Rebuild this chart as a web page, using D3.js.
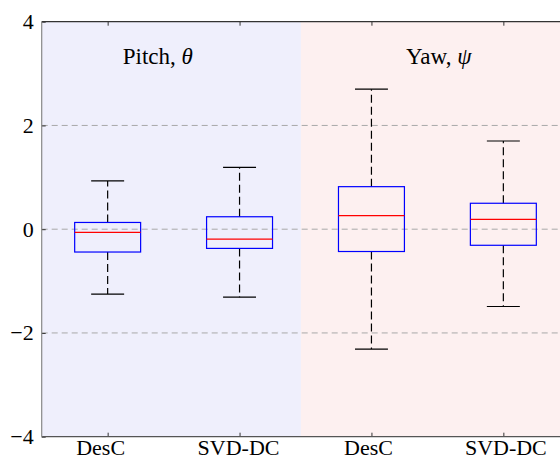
<!DOCTYPE html>
<html>
<head>
<meta charset="utf-8">
<script src="https://cdn.jsdelivr.net/npm/d3@7"></script>
<style>
  body { margin: 0; background: #fff; }
  svg { display: block; }
  text { font-family: "Liberation Serif", "Times New Roman", serif; fill: #000; }
</style>
</head>
<body>
<svg id="chart" width="560" height="467"></svg>
<script>
// Box statistics per method (pitch pair, then yaw pair)
const categories   = ["DesC", "SVD-DC", "DesC", "SVD-DC"];
const upperWhisker = [0.93, 1.19, 2.70, 1.70];
const q3           = [0.13, 0.24, 0.82, 0.50];
const median       = [-0.06, -0.19, 0.26, 0.19];
const q1           = [-0.44, -0.37, -0.43, -0.31];
const lowerWhisker = [-1.25, -1.31, -2.31, -1.49];

const yTicks     = [-4, -2, 0, 2, 4];
const gridValues = [-2, 0, 2];

// Shaded groups: name, symbol, x-span (category units), label anchor (x, y)
const groupNames   = ["Pitch, ", "Yaw, "];
const groupSymbols = ["\u03B8", "\u03C8"];
const groupSpans   = [[0.5, 2.465], [2.465, 4.5]];
const groupLabelAt = [[1.38, 3.19], [3.51, 3.19]];
const groupFills   = ["#EFEFFC", "#FDF0F0"];

const svg = d3.select("#chart");
const plotL = 41.7, plotR = 569.3, plotT = 21.7, plotB = 436.7;

const x = d3.scaleLinear().domain([0.5, 4.5]).range([plotL, plotR]);
const y = d3.scaleLinear().domain([-4, 4]).range([plotB, plotT]);
const idx = categories.map((_, i) => i + 1);

// group backgrounds
svg.append("g").selectAll("rect").data(groupSpans).join("rect")
  .attr("x", d => x(d[0])).attr("width", d => x(d[1]) - x(d[0]))
  .attr("y", plotT).attr("height", plotB - plotT)
  .attr("fill", (d, i) => groupFills[i]);

// dashed grid
svg.append("g").selectAll("line").data(gridValues).join("line")
  .attr("x1", plotL).attr("x2", plotR)
  .attr("y1", d => y(d)).attr("y2", d => y(d))
  .attr("stroke", "#a8a8a8").attr("stroke-width", 1)
  .attr("stroke-dasharray", "6,4");

// group labels
const gl = svg.append("g").selectAll("text").data(groupNames).join("text")
  .attr("x", (d, i) => x(groupLabelAt[i][0]))
  .attr("y", (d, i) => y(groupLabelAt[i][1]))
  .attr("text-anchor", "middle")
  .style("font-size", "23px");
gl.append("tspan").text(d => d);
gl.append("tspan").style("font-style", "italic").text((d, i) => groupSymbols[i]);

// boxes
const boxW = 0.5, capW = 0.25;
const bx = svg.append("g").selectAll("g").data(idx).join("g");
bx.append("line") // upper whisker
  .attr("x1", d => x(d)).attr("x2", d => x(d))
  .attr("y1", (d, i) => y(q3[i])).attr("y2", (d, i) => y(upperWhisker[i]))
  .attr("stroke", "#000").attr("stroke-width", 1.2).attr("stroke-dasharray", "8,4");
bx.append("line") // lower whisker
  .attr("x1", d => x(d)).attr("x2", d => x(d))
  .attr("y1", (d, i) => y(q1[i])).attr("y2", (d, i) => y(lowerWhisker[i]))
  .attr("stroke", "#000").attr("stroke-width", 1.2).attr("stroke-dasharray", "8,4");
bx.append("line") // upper cap
  .attr("x1", d => x(d - capW / 2)).attr("x2", d => x(d + capW / 2))
  .attr("y1", (d, i) => y(upperWhisker[i])).attr("y2", (d, i) => y(upperWhisker[i]))
  .attr("stroke", "#000").attr("stroke-width", 1.2);
bx.append("line") // lower cap
  .attr("x1", d => x(d - capW / 2)).attr("x2", d => x(d + capW / 2))
  .attr("y1", (d, i) => y(lowerWhisker[i])).attr("y2", (d, i) => y(lowerWhisker[i]))
  .attr("stroke", "#000").attr("stroke-width", 1.2);
bx.append("rect")
  .attr("x", d => x(d - boxW / 2)).attr("width", d => x(d + boxW / 2) - x(d - boxW / 2))
  .attr("y", (d, i) => y(q3[i])).attr("height", (d, i) => y(q1[i]) - y(q3[i]))
  .attr("fill", "none").attr("stroke", "#0000ff").attr("stroke-width", 1.2);
bx.append("line") // median
  .attr("x1", d => x(d - boxW / 2)).attr("x2", d => x(d + boxW / 2))
  .attr("y1", (d, i) => y(median[i])).attr("y2", (d, i) => y(median[i]))
  .attr("stroke", "#ff0000").attr("stroke-width", 1.2);

// axes with inward ticks
const labelNudge = [-7.5, -1.5, -3.5, 2];
const xAxis = svg.append("g").attr("transform", `translate(0,${plotB})`)
  .call(d3.axisBottom(x).tickValues(idx).tickFormat((d, i) => categories[i])
        .tickSize(-4).tickPadding(2.5));
xAxis.selectAll("text").style("font-size", "22px").attr("dx", (d, i) => labelNudge[i]);

const topAxis = svg.append("g").attr("transform", `translate(0,${plotT})`)
  .call(d3.axisTop(x).tickValues(idx).tickFormat("").tickSize(-4));

const yAxis = svg.append("g").attr("transform", `translate(${plotL},0)`)
  .call(d3.axisLeft(y).tickValues(yTicks)
        .tickFormat(d => d < 0 ? "\u2212" + Math.abs(d) : String(d))
        .tickSize(-4).tickPadding(8));
yAxis.selectAll("text").style("font-size", "22px");

[xAxis, topAxis, yAxis].forEach(g => {
  g.select(".domain").remove();
  g.selectAll(".tick line").attr("stroke", "#333");
});

// frame
svg.append("line").attr("x1", plotL).attr("x2", plotR).attr("y1", plotT).attr("y2", plotT)
  .attr("stroke", "#333").attr("stroke-width", 1.2);
svg.append("line").attr("x1", plotL).attr("x2", plotR).attr("y1", plotB).attr("y2", plotB)
  .attr("stroke", "#555").attr("stroke-width", 1.2);
svg.append("line").attr("x1", plotL).attr("x2", plotL).attr("y1", plotT).attr("y2", plotB)
  .attr("stroke", "#888").attr("stroke-width", 1.2);
</script>
</body>
</html>
